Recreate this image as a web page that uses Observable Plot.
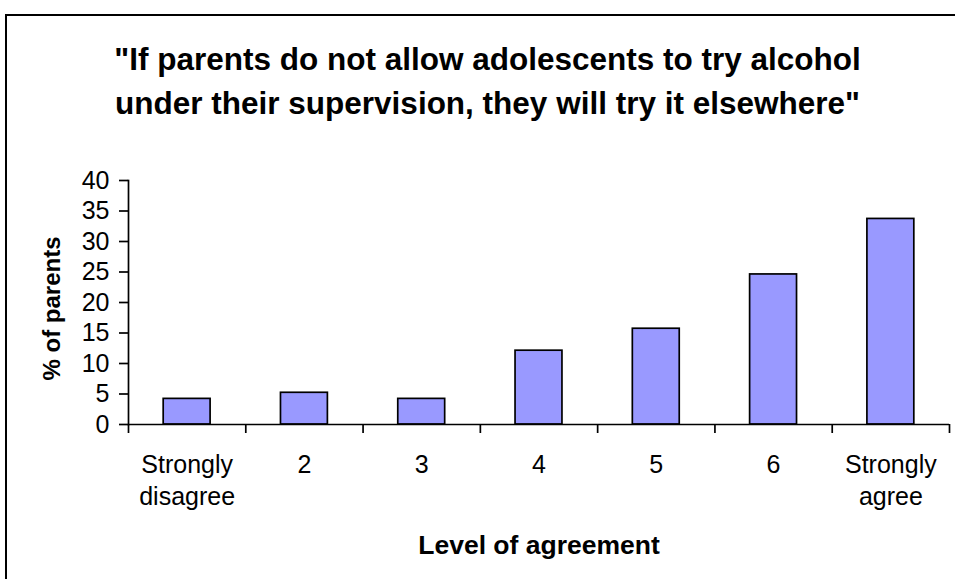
<!DOCTYPE html>
<html><head><meta charset="utf-8">
<script src="https://cdn.jsdelivr.net/npm/d3@7"></script>
<script src="https://cdn.jsdelivr.net/npm/@observablehq/plot@0.6"></script>
<style>
html,body{margin:0;padding:0;background:#fff;}
#wrap{position:relative;width:955px;height:579px;overflow:hidden;background:#fff;}
#chart{position:absolute;left:0;top:0;width:955px;}
#frame{position:absolute;left:5px;top:14px;width:2000px;height:2000px;border-left:2px solid #000;border-top:2px solid #000;pointer-events:none;}
</style></head><body>
<div id="wrap"><div id="chart"></div><div id="frame"></div></div>
<script>
const titleLines = ["\"If parents do not allow adolescents to try alcohol", "under their supervision, they will try it elsewhere\""];
const categories = ["Strongly disagree", "2", "3", "4", "5", "6", "Strongly agree"];
const tickLabels = ["Strongly\ndisagree", "2", "3", "4", "5", "6", "Strongly\nagree"];
const values = [4.2, 5.2, 4.2, 12.1, 15.7, 24.6, 33.7];
const yTicks = [0, 5, 10, 15, 20, 25, 30, 35, 40];
const yLabel = "% of parents";
const xLabel = "Level of agreement";

const W = 955, H = 579;
const mL = 128, mR = 6, mT = 180, mB = 155;
const step = (W - mL - mR) / categories.length;
const data = categories.map((c, i) => ({category: c, value: values[i]}));
const font = "'Liberation Sans', Arial, sans-serif";

const plot = Plot.plot({
  width: W, height: H,
  marginLeft: mL, marginRight: mR, marginTop: mT, marginBottom: mB,
  style: {fontFamily: font, background: "transparent", color: "#000", overflow: "visible"},
  x: {domain: categories, paddingInner: 0.6, paddingOuter: 0.3, round: false, label: null},
  y: {domain: [0, 40], label: null},
  marks: [
    Plot.barY(data, {x: "category", y: "value", fill: "#9999FF", stroke: "#000", strokeWidth: 1.7}),
    Plot.ruleY([0], {stroke: "#000", strokeWidth: 1.7}),
    Plot.ruleX(categories, {x: d => d, y1: 0, y2: 0, insetBottom: -9, dx: -step / 2, stroke: "#000", strokeWidth: 1.7}),
    Plot.ruleX([categories[categories.length - 1]], {x: d => d, y1: 0, y2: 0, insetBottom: -9, dx: step / 2, stroke: "#000", strokeWidth: 1.7}),
    Plot.frame({anchor: "left", stroke: "#000", strokeWidth: 1.7}),
    Plot.axisY({ticks: yTicks, tickSize: 9, tickPadding: 10, fontSize: 25, tickFormat: d => String(d), label: null, strokeWidth: 1.7}),
    Plot.axisX({tickSize: 0, tickPadding: 25, fontSize: 25, lineHeight: 1.3, tickFormat: d => tickLabels[categories.indexOf(d)], label: null}),
    Plot.text([titleLines.join("\n")], {text: d => d, frameAnchor: "top", dx: -51.5, dy: -142, lineAnchor: "top", fontSize: 31.5, fontWeight: "bold", lineHeight: 1.4}),
    Plot.text([xLabel], {text: d => d, frameAnchor: "bottom", dy: 111, lineAnchor: "top", fontSize: 26.5, fontWeight: "bold"}),
    Plot.text([yLabel], {text: d => d, frameAnchor: "left", dx: -76, dy: 6, rotate: -90, textAnchor: "middle", lineAnchor: "middle", fontSize: 24, fontWeight: "bold"})
  ]
});
document.getElementById("chart").appendChild(plot);
</script>
</body></html>
